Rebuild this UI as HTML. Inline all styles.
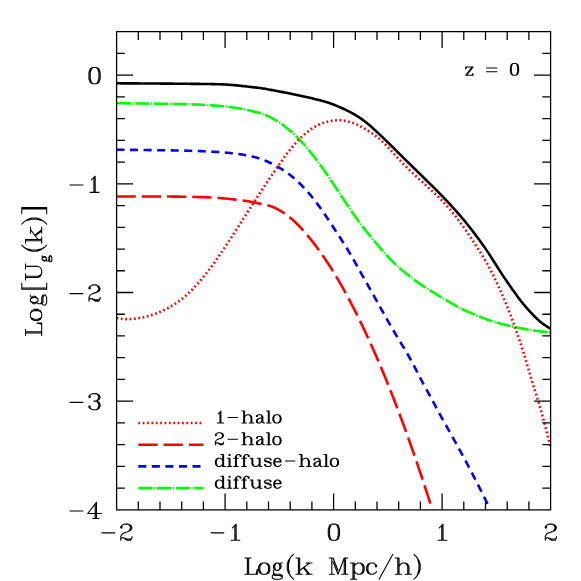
<!DOCTYPE html>
<html><head><meta charset="utf-8"><title>plot</title>
<style>html,body{margin:0;padding:0;background:#fff;font-family:"Liberation Sans",sans-serif;}svg{display:block}</style>
</head><body>
<svg width="581" height="581" viewBox="0 0 581 581">
<rect width="581" height="581" fill="#fff"/>
<path d="M116.50 83.30 L117.70 83.31 L118.90 83.31 L120.10 83.32 L121.30 83.33 L122.50 83.33 L123.70 83.34 L124.90 83.34 L126.10 83.35 L127.30 83.36 L128.50 83.36 L129.70 83.37 L130.90 83.38 L132.10 83.39 L133.30 83.39 L134.50 83.40 L135.70 83.41 L136.90 83.41 L138.10 83.42 L139.30 83.43 L140.50 83.44 L141.70 83.45 L142.90 83.45 L144.10 83.46 L145.30 83.47 L146.50 83.48 L147.70 83.48 L148.90 83.49 L150.10 83.50 L151.30 83.51 L152.50 83.52 L153.70 83.53 L154.90 83.53 L156.10 83.54 L157.30 83.55 L158.50 83.56 L159.70 83.57 L160.90 83.58 L162.10 83.58 L163.30 83.59 L164.50 83.60 L165.70 83.61 L166.90 83.62 L168.10 83.63 L169.30 83.64 L170.50 83.65 L171.70 83.66 L172.90 83.67 L174.10 83.68 L175.30 83.69 L176.50 83.70 L177.70 83.71 L178.90 83.72 L180.10 83.73 L181.30 83.74 L182.50 83.75 L183.70 83.76 L184.90 83.77 L186.10 83.79 L187.30 83.80 L188.50 83.81 L189.70 83.82 L190.90 83.83 L192.10 83.85 L193.30 83.86 L194.50 83.87 L195.70 83.88 L196.90 83.90 L198.10 83.91 L199.30 83.92 L200.50 83.94 L201.70 83.95 L202.90 83.97 L204.10 83.98 L205.30 84.00 L206.50 84.02 L207.70 84.03 L208.90 84.05 L210.10 84.07 L211.30 84.09 L212.50 84.11 L213.70 84.14 L214.90 84.16 L216.10 84.19 L217.30 84.21 L218.49 84.24 L219.69 84.28 L220.89 84.32 L222.09 84.36 L223.29 84.41 L224.49 84.46 L225.69 84.53 L226.89 84.60 L228.09 84.68 L229.28 84.77 L230.48 84.86 L231.68 84.95 L232.87 85.05 L234.07 85.16 L235.26 85.26 L236.46 85.37 L237.65 85.49 L238.85 85.60 L240.04 85.72 L241.23 85.85 L242.43 85.99 L243.62 86.12 L244.81 86.27 L246.00 86.41 L247.19 86.55 L248.39 86.70 L249.58 86.83 L250.77 86.97 L251.96 87.10 L253.15 87.23 L254.35 87.36 L255.54 87.49 L256.73 87.63 L257.93 87.77 L259.12 87.92 L260.31 88.08 L261.50 88.25 L262.68 88.42 L263.87 88.61 L265.05 88.81 L266.24 89.01 L267.42 89.22 L268.60 89.44 L269.78 89.66 L270.96 89.88 L272.14 90.10 L273.32 90.33 L274.50 90.55 L275.68 90.77 L276.85 91.00 L278.03 91.22 L279.21 91.45 L280.39 91.67 L281.57 91.90 L282.75 92.13 L283.93 92.35 L285.10 92.58 L286.28 92.81 L287.46 93.05 L288.64 93.28 L289.81 93.52 L290.99 93.76 L292.16 94.00 L293.34 94.24 L294.52 94.48 L295.69 94.73 L296.86 94.98 L298.04 95.23 L299.21 95.48 L300.38 95.74 L301.56 95.99 L302.73 96.25 L303.90 96.51 L305.07 96.77 L306.24 97.03 L307.42 97.29 L308.59 97.55 L309.76 97.81 L310.93 98.08 L312.10 98.35 L313.27 98.62 L314.44 98.90 L315.60 99.18 L316.77 99.46 L317.93 99.75 L319.10 100.05 L320.26 100.35 L321.42 100.66 L322.58 100.98 L323.73 101.31 L324.89 101.65 L326.04 101.99 L327.19 102.35 L328.33 102.72 L329.47 103.10 L330.60 103.50 L331.73 103.91 L332.86 104.33 L333.98 104.77 L335.10 105.21 L336.21 105.67 L337.32 106.13 L338.42 106.60 L339.53 107.08 L340.63 107.56 L341.72 108.05 L342.82 108.55 L343.91 109.04 L345.00 109.55 L346.09 110.06 L347.17 110.58 L348.25 111.11 L349.33 111.65 L350.40 112.20 L351.46 112.77 L352.52 113.35 L353.57 113.94 L354.61 114.54 L355.64 115.16 L356.67 115.79 L357.69 116.43 L358.70 117.09 L359.70 117.75 L360.70 118.43 L361.69 119.12 L362.67 119.82 L363.64 120.53 L364.61 121.25 L365.56 121.98 L366.51 122.72 L367.45 123.48 L368.39 124.24 L369.31 125.02 L370.22 125.80 L371.13 126.60 L372.03 127.40 L372.92 128.21 L373.81 129.02 L374.69 129.84 L375.57 130.66 L376.45 131.48 L377.32 132.30 L378.19 133.12 L379.07 133.95 L379.94 134.77 L380.81 135.60 L381.68 136.42 L382.55 137.25 L383.42 138.08 L384.29 138.91 L385.15 139.74 L386.02 140.58 L386.88 141.41 L387.75 142.25 L388.61 143.08 L389.47 143.92 L390.32 144.76 L391.18 145.61 L392.04 146.45 L392.89 147.29 L393.74 148.14 L394.59 148.99 L395.44 149.83 L396.29 150.68 L397.14 151.53 L397.99 152.38 L398.84 153.23 L399.68 154.08 L400.53 154.93 L401.38 155.78 L402.23 156.62 L403.08 157.47 L403.93 158.31 L404.79 159.16 L405.64 160.00 L406.49 160.84 L407.35 161.68 L408.21 162.52 L409.07 163.36 L409.92 164.19 L410.79 165.03 L411.65 165.86 L412.51 166.70 L413.37 167.53 L414.23 168.36 L415.10 169.20 L415.96 170.04 L416.82 170.87 L417.68 171.71 L418.53 172.55 L419.39 173.40 L420.25 174.24 L421.10 175.08 L421.95 175.92 L422.81 176.77 L423.66 177.61 L424.52 178.45 L425.37 179.29 L426.23 180.13 L427.09 180.97 L427.95 181.81 L428.81 182.65 L429.66 183.48 L430.52 184.32 L431.38 185.17 L432.23 186.01 L433.09 186.85 L433.94 187.70 L434.79 188.55 L435.64 189.40 L436.49 190.25 L437.33 191.10 L438.18 191.96 L439.02 192.81 L439.86 193.67 L440.70 194.53 L441.54 195.39 L442.37 196.26 L443.20 197.12 L444.04 197.99 L444.86 198.86 L445.69 199.73 L446.52 200.60 L447.34 201.48 L448.16 202.35 L448.98 203.23 L449.80 204.11 L450.62 204.99 L451.43 205.88 L452.24 206.76 L453.05 207.65 L453.86 208.54 L454.66 209.44 L455.47 210.33 L456.26 211.23 L457.06 212.13 L457.85 213.03 L458.65 213.94 L459.43 214.84 L460.22 215.75 L461.00 216.67 L461.78 217.58 L462.56 218.50 L463.33 219.42 L464.10 220.35 L464.87 221.27 L465.63 222.20 L466.39 223.13 L467.15 224.07 L467.90 225.00 L468.65 225.94 L469.40 226.89 L470.14 227.83 L470.89 228.78 L471.62 229.73 L472.36 230.68 L473.09 231.63 L473.82 232.59 L474.55 233.55 L475.27 234.51 L475.99 235.47 L476.71 236.43 L477.42 237.40 L478.14 238.37 L478.85 239.33 L479.56 240.30 L480.27 241.28 L480.97 242.25 L481.68 243.22 L482.38 244.20 L483.08 245.18 L483.77 246.16 L484.46 247.14 L485.15 248.13 L485.83 249.12 L486.51 250.12 L487.18 251.12 L487.85 252.12 L488.52 253.13 L489.17 254.13 L489.83 255.14 L490.48 256.16 L491.13 257.17 L491.77 258.18 L492.42 259.20 L493.06 260.21 L493.70 261.23 L494.34 262.24 L494.98 263.25 L495.62 264.27 L496.26 265.28 L496.91 266.29 L497.55 267.31 L498.20 268.32 L498.84 269.33 L499.49 270.34 L500.14 271.34 L500.79 272.35 L501.44 273.35 L502.10 274.35 L502.76 275.35 L503.42 276.35 L504.08 277.35 L504.75 278.34 L505.42 279.33 L506.10 280.32 L506.77 281.31 L507.45 282.29 L508.14 283.28 L508.82 284.26 L509.51 285.24 L510.20 286.22 L510.89 287.20 L511.58 288.18 L512.28 289.16 L512.97 290.14 L513.67 291.11 L514.36 292.09 L515.06 293.07 L515.76 294.04 L516.46 295.01 L517.16 295.98 L517.87 296.94 L518.58 297.91 L519.30 298.86 L520.02 299.82 L520.75 300.76 L521.48 301.70 L522.23 302.64 L522.98 303.56 L523.74 304.49 L524.50 305.40 L525.28 306.31 L526.06 307.22 L526.84 308.12 L527.64 309.01 L528.43 309.90 L529.24 310.79 L530.05 311.67 L530.86 312.54 L531.68 313.41 L532.51 314.28 L533.34 315.14 L534.18 315.99 L535.02 316.84 L535.87 317.68 L536.73 318.51 L537.60 319.33 L538.48 320.13 L539.37 320.92 L540.27 321.69 L541.20 322.44 L542.13 323.18 L543.08 323.89 L544.05 324.58 L545.04 325.26 L546.03 325.91 L547.05 326.54 L548.07 327.15 L549.10 327.76 L550.14 328.35 L550.60 328.55" fill="none" stroke="#000" stroke-width="2.60"/>
<path d="M116.50 103.20 L117.70 103.21 L118.90 103.22 L120.10 103.24 L121.30 103.25 L122.50 103.26 L123.70 103.28 L124.90 103.29 L126.10 103.30 L127.30 103.32 L128.50 103.33 L129.70 103.34 L130.90 103.36 L132.10 103.37 L133.30 103.39 L134.50 103.40 L135.70 103.42 L136.90 103.43 L138.10 103.44 L139.30 103.46 L140.50 103.48 L141.70 103.49 L142.90 103.51 L144.10 103.52 L145.30 103.54 L146.50 103.55 L147.70 103.57 L148.90 103.59 L150.10 103.60 L151.30 103.62 L152.50 103.63 L153.70 103.65 L154.90 103.66 L156.10 103.68 L157.30 103.70 L158.50 103.71 L159.70 103.73 L160.90 103.74 L162.10 103.76 L163.30 103.77 L164.50 103.79 L165.70 103.81 L166.90 103.82 L168.10 103.84 L169.30 103.86 L170.50 103.87 L171.70 103.89 L172.90 103.91 L174.10 103.93 L175.30 103.95 L176.50 103.97 L177.69 103.99 L178.89 104.02 L180.09 104.04 L181.29 104.06 L182.49 104.09 L183.69 104.11 L184.89 104.14 L186.09 104.17 L187.29 104.20 L188.49 104.23 L189.69 104.27 L190.89 104.30 L192.09 104.34 L193.29 104.38 L194.49 104.43 L195.69 104.47 L196.89 104.52 L198.09 104.57 L199.29 104.63 L200.48 104.68 L201.68 104.74 L202.88 104.80 L204.08 104.87 L205.28 104.93 L206.48 105.00 L207.67 105.07 L208.87 105.15 L210.07 105.22 L211.27 105.30 L212.46 105.38 L213.66 105.46 L214.86 105.54 L216.06 105.63 L217.25 105.72 L218.45 105.81 L219.65 105.91 L220.84 106.01 L222.04 106.11 L223.23 106.23 L224.43 106.35 L225.62 106.48 L226.81 106.62 L228.00 106.77 L229.19 106.92 L230.38 107.08 L231.57 107.25 L232.76 107.42 L233.95 107.60 L235.13 107.79 L236.32 107.98 L237.50 108.17 L238.69 108.37 L239.87 108.58 L241.05 108.80 L242.23 109.03 L243.41 109.26 L244.58 109.51 L245.76 109.76 L246.93 110.01 L248.10 110.27 L249.27 110.54 L250.44 110.80 L251.61 111.07 L252.78 111.34 L253.95 111.61 L255.12 111.89 L256.29 112.18 L257.45 112.47 L258.61 112.78 L259.77 113.11 L260.92 113.45 L262.07 113.82 L263.21 114.21 L264.34 114.62 L265.46 115.06 L266.57 115.52 L267.68 116.01 L268.77 116.52 L269.86 117.04 L270.93 117.58 L272.00 118.14 L273.06 118.71 L274.11 119.30 L275.15 119.90 L276.19 120.52 L277.22 121.15 L278.24 121.79 L279.24 122.45 L280.24 123.13 L281.23 123.82 L282.21 124.52 L283.18 125.23 L284.15 125.95 L285.10 126.69 L286.05 127.43 L287.00 128.18 L287.93 128.94 L288.86 129.70 L289.78 130.48 L290.70 131.26 L291.60 132.06 L292.50 132.86 L293.40 133.67 L294.28 134.48 L295.16 135.31 L296.03 136.14 L296.90 136.98 L297.75 137.83 L298.60 138.68 L299.45 139.54 L300.28 140.41 L301.11 141.28 L301.94 142.16 L302.75 143.05 L303.56 143.94 L304.36 144.84 L305.16 145.75 L305.94 146.66 L306.73 147.58 L307.50 148.50 L308.27 149.43 L309.03 150.36 L309.79 151.29 L310.55 152.23 L311.30 153.17 L312.05 154.11 L312.79 155.06 L313.53 156.00 L314.27 156.96 L315.00 157.91 L315.73 158.87 L316.45 159.83 L317.18 160.79 L317.90 161.75 L318.61 162.72 L319.32 163.69 L320.03 164.66 L320.74 165.63 L321.44 166.61 L322.14 167.59 L322.83 168.57 L323.53 169.55 L324.22 170.53 L324.91 171.52 L325.60 172.50 L326.28 173.49 L326.97 174.48 L327.65 175.47 L328.33 176.46 L329.01 177.45 L329.68 178.45 L330.35 179.44 L331.02 180.44 L331.69 181.44 L332.36 182.44 L333.02 183.44 L333.68 184.44 L334.35 185.44 L335.01 186.45 L335.67 187.45 L336.33 188.45 L336.99 189.45 L337.65 190.45 L338.32 191.45 L338.98 192.45 L339.64 193.45 L340.31 194.45 L340.97 195.45 L341.63 196.45 L342.30 197.45 L342.96 198.44 L343.63 199.44 L344.29 200.44 L344.96 201.44 L345.62 202.44 L346.29 203.44 L346.95 204.44 L347.62 205.44 L348.28 206.43 L348.95 207.43 L349.62 208.43 L350.29 209.42 L350.96 210.42 L351.63 211.41 L352.30 212.40 L352.98 213.39 L353.65 214.38 L354.34 215.36 L355.02 216.34 L355.71 217.32 L356.40 218.30 L357.09 219.28 L357.79 220.25 L358.49 221.22 L359.20 222.18 L359.91 223.15 L360.62 224.10 L361.34 225.06 L362.07 226.01 L362.80 226.96 L363.53 227.90 L364.27 228.84 L365.01 229.78 L365.76 230.72 L366.51 231.65 L367.26 232.58 L368.02 233.51 L368.78 234.44 L369.54 235.36 L370.30 236.29 L371.07 237.21 L371.83 238.13 L372.60 239.06 L373.37 239.98 L374.14 240.90 L374.91 241.82 L375.68 242.74 L376.45 243.66 L377.22 244.58 L377.99 245.49 L378.77 246.41 L379.54 247.32 L380.32 248.23 L381.11 249.13 L381.89 250.04 L382.68 250.93 L383.48 251.83 L384.27 252.72 L385.08 253.61 L385.88 254.49 L386.69 255.38 L387.51 256.25 L388.33 257.12 L389.15 257.99 L389.98 258.86 L390.81 259.72 L391.65 260.57 L392.49 261.42 L393.33 262.27 L394.19 263.11 L395.04 263.94 L395.91 264.77 L396.78 265.59 L397.65 266.40 L398.54 267.21 L399.43 268.00 L400.33 268.79 L401.24 269.57 L402.15 270.34 L403.07 271.10 L404.00 271.86 L404.93 272.61 L405.87 273.35 L406.81 274.09 L407.76 274.83 L408.70 275.56 L409.65 276.30 L410.60 277.03 L411.55 277.76 L412.50 278.49 L413.46 279.22 L414.41 279.94 L415.37 280.67 L416.33 281.38 L417.29 282.09 L418.26 282.79 L419.23 283.49 L420.21 284.17 L421.20 284.85 L422.19 285.51 L423.19 286.17 L424.20 286.82 L425.21 287.46 L426.23 288.10 L427.24 288.73 L428.27 289.36 L429.29 289.98 L430.32 290.60 L431.34 291.22 L432.37 291.84 L433.40 292.46 L434.43 293.08 L435.46 293.70 L436.48 294.32 L437.51 294.94 L438.54 295.56 L439.57 296.17 L440.59 296.79 L441.62 297.41 L442.65 298.02 L443.68 298.64 L444.71 299.25 L445.75 299.86 L446.78 300.47 L447.81 301.08 L448.85 301.69 L449.88 302.30 L450.92 302.90 L451.95 303.51 L452.99 304.11 L454.02 304.72 L455.06 305.31 L456.11 305.91 L457.15 306.49 L458.20 307.07 L459.26 307.63 L460.32 308.18 L461.38 308.72 L462.46 309.25 L463.54 309.77 L464.62 310.27 L465.71 310.77 L466.81 311.25 L467.91 311.73 L469.01 312.20 L470.11 312.67 L471.22 313.14 L472.33 313.60 L473.43 314.06 L474.54 314.52 L475.65 314.98 L476.76 315.45 L477.86 315.91 L478.97 316.36 L480.08 316.82 L481.19 317.27 L482.31 317.71 L483.42 318.15 L484.54 318.58 L485.66 319.00 L486.79 319.40 L487.92 319.80 L489.05 320.19 L490.19 320.57 L491.33 320.93 L492.47 321.29 L493.62 321.65 L494.77 321.99 L495.92 322.33 L497.07 322.66 L498.23 322.99 L499.38 323.30 L500.54 323.62 L501.70 323.92 L502.86 324.22 L504.02 324.52 L505.19 324.81 L506.35 325.09 L507.52 325.37 L508.69 325.65 L509.85 325.92 L511.02 326.18 L512.19 326.44 L513.37 326.70 L514.54 326.96 L515.71 327.21 L516.88 327.46 L518.06 327.71 L519.23 327.95 L520.41 328.19 L521.59 328.42 L522.76 328.65 L523.94 328.87 L525.12 329.09 L526.30 329.30 L527.48 329.51 L528.67 329.71 L529.85 329.91 L531.03 330.10 L532.22 330.29 L533.40 330.47 L534.59 330.65 L535.78 330.83 L536.96 330.99 L538.15 331.16 L539.34 331.32 L540.53 331.47 L541.72 331.62 L542.91 331.76 L544.10 331.90 L545.30 332.03 L546.49 332.16 L547.68 332.29 L548.88 332.41 L550.07 332.53 L550.70 332.60" fill="none" stroke="#00ff00" stroke-width="2.60" stroke-dasharray="14.2 1.7 1.2 1.6"/>
<path d="M116.50 149.70 L117.70 149.71 L118.90 149.72 L120.10 149.74 L121.30 149.75 L122.50 149.76 L123.70 149.78 L124.90 149.79 L126.10 149.80 L127.30 149.82 L128.50 149.83 L129.70 149.84 L130.90 149.86 L132.10 149.87 L133.30 149.89 L134.50 149.90 L135.70 149.92 L136.90 149.93 L138.10 149.94 L139.30 149.96 L140.50 149.98 L141.70 149.99 L142.90 150.01 L144.10 150.02 L145.30 150.04 L146.50 150.05 L147.70 150.07 L148.90 150.09 L150.10 150.10 L151.30 150.12 L152.50 150.13 L153.70 150.15 L154.90 150.17 L156.10 150.18 L157.30 150.20 L158.50 150.21 L159.70 150.23 L160.90 150.24 L162.10 150.26 L163.30 150.28 L164.50 150.29 L165.70 150.31 L166.90 150.33 L168.10 150.34 L169.30 150.36 L170.50 150.38 L171.70 150.40 L172.90 150.42 L174.10 150.44 L175.30 150.46 L176.49 150.48 L177.69 150.50 L178.89 150.52 L180.09 150.54 L181.29 150.57 L182.49 150.59 L183.69 150.62 L184.89 150.64 L186.09 150.67 L187.29 150.70 L188.49 150.73 L189.69 150.76 L190.89 150.79 L192.09 150.83 L193.29 150.86 L194.49 150.90 L195.69 150.94 L196.89 150.98 L198.09 151.03 L199.29 151.07 L200.49 151.12 L201.69 151.17 L202.88 151.22 L204.08 151.27 L205.28 151.33 L206.48 151.38 L207.68 151.44 L208.88 151.50 L210.08 151.56 L211.27 151.63 L212.47 151.69 L213.67 151.76 L214.87 151.83 L216.07 151.90 L217.27 151.97 L218.46 152.05 L219.66 152.12 L220.86 152.21 L222.05 152.29 L223.25 152.38 L224.45 152.48 L225.64 152.59 L226.84 152.70 L228.03 152.81 L229.23 152.94 L230.42 153.07 L231.61 153.20 L232.81 153.34 L234.00 153.48 L235.19 153.62 L236.38 153.77 L237.57 153.93 L238.76 154.08 L239.95 154.24 L241.14 154.41 L242.33 154.58 L243.51 154.77 L244.70 154.96 L245.88 155.16 L247.06 155.37 L248.24 155.59 L249.42 155.83 L250.60 156.09 L251.77 156.36 L252.94 156.64 L254.10 156.94 L255.26 157.26 L256.41 157.60 L257.56 157.95 L258.71 158.31 L259.85 158.68 L260.99 159.07 L262.12 159.48 L263.25 159.89 L264.37 160.33 L265.49 160.78 L266.60 161.24 L267.70 161.72 L268.80 162.22 L269.89 162.73 L270.97 163.25 L272.05 163.79 L273.12 164.33 L274.19 164.89 L275.25 165.46 L276.31 166.03 L277.36 166.62 L278.40 167.22 L279.44 167.83 L280.47 168.45 L281.50 169.08 L282.52 169.72 L283.53 170.38 L284.53 171.04 L285.53 171.72 L286.51 172.41 L287.50 173.11 L288.47 173.82 L289.43 174.55 L290.39 175.28 L291.33 176.03 L292.27 176.79 L293.19 177.56 L294.11 178.34 L295.02 179.13 L295.92 179.93 L296.82 180.74 L297.70 181.56 L298.58 182.38 L299.46 183.21 L300.32 184.05 L301.18 184.90 L302.03 185.75 L302.87 186.62 L303.71 187.49 L304.53 188.36 L305.35 189.25 L306.17 190.14 L306.97 191.03 L307.77 191.94 L308.56 192.85 L309.34 193.76 L310.12 194.69 L310.89 195.61 L311.65 196.55 L312.41 197.49 L313.16 198.43 L313.90 199.38 L314.64 200.33 L315.37 201.29 L316.10 202.24 L316.82 203.21 L317.54 204.17 L318.25 205.14 L318.96 206.11 L319.67 207.08 L320.38 208.06 L321.07 209.04 L321.77 210.02 L322.46 211.00 L323.15 211.99 L323.84 212.98 L324.52 213.97 L325.19 214.97 L325.87 215.96 L326.54 216.96 L327.21 217.96 L327.87 218.96 L328.53 219.97 L329.20 220.97 L329.85 221.97 L330.51 222.98 L331.17 223.98 L331.83 224.99 L332.48 225.99 L333.14 227.00 L333.79 228.00 L334.45 229.01 L335.11 230.01 L335.76 231.01 L336.42 232.02 L337.08 233.02 L337.74 234.03 L338.39 235.03 L339.05 236.04 L339.71 237.04 L340.36 238.05 L341.01 239.06 L341.67 240.07 L342.32 241.08 L342.96 242.09 L343.61 243.11 L344.25 244.12 L344.89 245.14 L345.53 246.16 L346.16 247.19 L346.79 248.21 L347.41 249.24 L348.04 250.27 L348.65 251.30 L349.27 252.34 L349.88 253.38 L350.49 254.41 L351.09 255.45 L351.69 256.50 L352.29 257.54 L352.88 258.58 L353.48 259.63 L354.07 260.68 L354.66 261.72 L355.25 262.77 L355.83 263.82 L356.42 264.86 L357.01 265.91 L357.59 266.96 L358.18 268.01 L358.77 269.05 L359.35 270.10 L359.94 271.14 L360.53 272.19 L361.12 273.23 L361.71 274.28 L362.30 275.32 L362.89 276.37 L363.48 277.41 L364.07 278.46 L364.66 279.50 L365.25 280.54 L365.84 281.59 L366.43 282.63 L367.02 283.68 L367.62 284.72 L368.21 285.77 L368.80 286.81 L369.39 287.86 L369.98 288.90 L370.57 289.95 L371.16 290.99 L371.75 292.04 L372.34 293.08 L372.93 294.13 L373.51 295.18 L374.10 296.22 L374.69 297.27 L375.27 298.32 L375.86 299.37 L376.44 300.42 L377.03 301.47 L377.61 302.52 L378.19 303.57 L378.77 304.61 L379.36 305.66 L379.94 306.71 L380.52 307.76 L381.10 308.81 L381.69 309.86 L382.27 310.91 L382.85 311.96 L383.43 313.01 L384.02 314.05 L384.60 315.10 L385.19 316.15 L385.78 317.19 L386.36 318.24 L386.95 319.28 L387.54 320.32 L388.13 321.37 L388.73 322.41 L389.32 323.45 L389.92 324.49 L390.52 325.53 L391.11 326.56 L391.72 327.60 L392.32 328.64 L392.92 329.67 L393.53 330.70 L394.14 331.73 L394.75 332.76 L395.37 333.79 L395.98 334.82 L396.60 335.85 L397.22 336.87 L397.84 337.90 L398.47 338.92 L399.09 339.95 L399.71 340.97 L400.34 342.00 L400.96 343.02 L401.58 344.05 L402.20 345.08 L402.83 346.10 L403.45 347.13 L404.06 348.16 L404.68 349.20 L405.30 350.23 L405.91 351.26 L406.52 352.30 L407.12 353.34 L407.72 354.38 L408.32 355.43 L408.92 356.48 L409.51 357.53 L410.09 358.58 L410.67 359.63 L411.25 360.69 L411.83 361.75 L412.39 362.81 L412.96 363.87 L413.52 364.94 L414.08 366.01 L414.63 367.07 L415.18 368.14 L415.73 369.21 L416.28 370.28 L416.83 371.35 L417.38 372.41 L417.92 373.48 L418.47 374.55 L419.02 375.61 L419.57 376.68 L420.12 377.74 L420.68 378.80 L421.23 379.86 L421.80 380.92 L422.36 381.97 L422.93 383.03 L423.49 384.08 L424.07 385.13 L424.64 386.18 L425.22 387.23 L425.80 388.28 L426.38 389.33 L426.97 390.38 L427.55 391.42 L428.13 392.48 L428.71 393.53 L429.29 394.58 L429.87 395.64 L430.45 396.69 L431.02 397.75 L431.59 398.81 L432.15 399.87 L432.72 400.93 L433.28 402.00 L433.84 403.06 L434.40 404.12 L434.96 405.18 L435.52 406.24 L436.08 407.30 L436.64 408.36 L437.20 409.42 L437.77 410.47 L438.34 411.53 L438.91 412.58 L439.48 413.63 L440.05 414.68 L440.63 415.73 L441.21 416.78 L441.79 417.83 L442.37 418.88 L442.96 419.92 L443.54 420.97 L444.13 422.02 L444.71 423.06 L445.30 424.11 L445.89 425.16 L446.47 426.20 L447.06 427.25 L447.65 428.30 L448.23 429.35 L448.82 430.39 L449.40 431.44 L449.99 432.49 L450.58 433.54 L451.16 434.58 L451.74 435.63 L452.33 436.68 L452.91 437.73 L453.50 438.78 L454.08 439.83 L454.67 440.88 L455.25 441.92 L455.83 442.97 L456.41 444.02 L457.00 445.07 L457.58 446.13 L458.16 447.18 L458.74 448.23 L459.31 449.28 L459.89 450.33 L460.47 451.39 L461.04 452.44 L461.62 453.50 L462.19 454.55 L462.76 455.61 L463.33 456.67 L463.90 457.72 L464.47 458.78 L465.04 459.84 L465.60 460.90 L466.17 461.96 L466.73 463.02 L467.30 464.08 L467.86 465.14 L468.42 466.21 L468.98 467.27 L469.54 468.33 L470.10 469.39 L470.65 470.46 L471.21 471.52 L471.76 472.59 L472.32 473.66 L472.87 474.72 L473.42 475.79 L473.97 476.86 L474.52 477.92 L475.07 478.99 L475.62 480.06 L476.16 481.13 L476.71 482.20 L477.25 483.27 L477.80 484.34 L478.34 485.42 L478.88 486.49 L479.42 487.56 L479.96 488.63 L480.50 489.71 L481.03 490.78 L481.57 491.86 L482.11 492.93 L482.64 494.01 L483.17 495.08 L483.71 496.16 L484.24 497.24 L484.77 498.32 L485.30 499.39 L485.83 500.47 L486.35 501.55 L486.88 502.63 L487.41 503.71 L487.93 504.79 L488.46 505.87 L488.99 506.95 L489.50 508.00" fill="none" stroke="#0000ff" stroke-width="2.60" stroke-dasharray="8 5.55"/>
<path d="M116.50 196.50 L117.70 196.50 L118.90 196.50 L120.10 196.50 L121.30 196.50 L122.50 196.50 L123.70 196.50 L124.90 196.50 L126.10 196.50 L127.30 196.50 L128.50 196.50 L129.70 196.50 L130.90 196.50 L132.10 196.50 L133.30 196.50 L134.50 196.50 L135.70 196.50 L136.90 196.50 L138.10 196.50 L139.30 196.50 L140.50 196.50 L141.70 196.50 L142.90 196.50 L144.10 196.50 L145.30 196.50 L146.50 196.50 L147.70 196.50 L148.90 196.50 L150.10 196.50 L151.30 196.50 L152.50 196.50 L153.70 196.50 L154.90 196.50 L156.10 196.50 L157.30 196.50 L158.50 196.50 L159.70 196.50 L160.90 196.50 L162.10 196.50 L163.30 196.51 L164.50 196.51 L165.70 196.52 L166.90 196.52 L168.10 196.53 L169.30 196.54 L170.50 196.55 L171.70 196.56 L172.90 196.58 L174.10 196.59 L175.30 196.61 L176.50 196.62 L177.70 196.64 L178.90 196.66 L180.10 196.68 L181.30 196.70 L182.50 196.72 L183.70 196.74 L184.90 196.76 L186.10 196.78 L187.30 196.80 L188.50 196.82 L189.70 196.84 L190.90 196.87 L192.10 196.89 L193.30 196.92 L194.50 196.95 L195.70 196.98 L196.90 197.01 L198.10 197.04 L199.29 197.08 L200.49 197.11 L201.69 197.15 L202.89 197.19 L204.09 197.23 L205.29 197.27 L206.49 197.32 L207.69 197.37 L208.89 197.41 L210.09 197.46 L211.29 197.52 L212.49 197.58 L213.68 197.64 L214.88 197.70 L216.08 197.78 L217.28 197.86 L218.48 197.94 L219.67 198.04 L220.87 198.13 L222.06 198.23 L223.26 198.34 L224.45 198.45 L225.65 198.56 L226.84 198.68 L228.04 198.80 L229.23 198.92 L230.43 199.05 L231.62 199.19 L232.81 199.33 L234.00 199.47 L235.19 199.61 L236.38 199.76 L237.58 199.91 L238.77 200.06 L239.96 200.21 L241.15 200.36 L242.34 200.51 L243.53 200.66 L244.72 200.82 L245.91 200.98 L247.10 201.15 L248.28 201.33 L249.47 201.52 L250.65 201.72 L251.83 201.94 L253.01 202.17 L254.19 202.42 L255.36 202.68 L256.53 202.95 L257.70 203.22 L258.87 203.49 L260.04 203.75 L261.21 204.00 L262.39 204.23 L263.57 204.47 L264.74 204.70 L265.92 204.94 L267.09 205.20 L268.26 205.48 L269.43 205.79 L270.58 206.14 L271.72 206.53 L272.85 206.97 L273.96 207.43 L275.06 207.94 L276.15 208.47 L277.22 209.03 L278.28 209.60 L279.32 210.20 L280.36 210.81 L281.39 211.44 L282.41 212.08 L283.43 212.73 L284.43 213.40 L285.42 214.09 L286.40 214.80 L287.37 215.52 L288.33 216.25 L289.27 217.00 L290.21 217.76 L291.13 218.53 L292.05 219.32 L292.96 220.11 L293.86 220.91 L294.75 221.73 L295.63 222.55 L296.50 223.39 L297.36 224.23 L298.22 225.09 L299.06 225.95 L299.89 226.82 L300.72 227.70 L301.53 228.59 L302.34 229.48 L303.14 230.38 L303.94 231.28 L304.73 232.19 L305.52 233.10 L306.30 234.02 L307.07 234.94 L307.85 235.86 L308.61 236.79 L309.38 237.72 L310.14 238.65 L310.89 239.59 L311.64 240.53 L312.38 241.48 L313.13 242.43 L313.86 243.38 L314.60 244.33 L315.32 245.29 L316.05 246.25 L316.77 247.22 L317.48 248.18 L318.20 249.15 L318.90 250.13 L319.61 251.10 L320.31 252.08 L321.00 253.07 L321.69 254.05 L322.38 255.04 L323.06 256.03 L323.74 257.02 L324.42 258.02 L325.09 259.01 L325.76 260.01 L326.43 261.01 L327.09 262.02 L327.75 263.02 L328.41 264.03 L329.07 265.04 L329.72 266.05 L330.36 267.06 L331.01 268.08 L331.65 269.10 L332.29 270.12 L332.93 271.14 L333.56 272.16 L334.19 273.18 L334.81 274.21 L335.44 275.24 L336.06 276.27 L336.68 277.30 L337.29 278.34 L337.90 279.37 L338.51 280.41 L339.12 281.45 L339.72 282.49 L340.32 283.53 L340.92 284.58 L341.51 285.62 L342.11 286.67 L342.70 287.71 L343.28 288.76 L343.87 289.81 L344.45 290.87 L345.03 291.92 L345.61 292.97 L346.18 294.03 L346.76 295.09 L347.33 296.15 L347.90 297.20 L348.46 298.26 L349.03 299.32 L349.59 300.39 L350.15 301.45 L350.71 302.51 L351.27 303.58 L351.83 304.64 L352.38 305.71 L352.94 306.78 L353.49 307.84 L354.03 308.91 L354.58 309.98 L355.13 311.06 L355.67 312.13 L356.21 313.20 L356.75 314.28 L357.29 315.35 L357.82 316.43 L358.36 317.50 L358.89 318.58 L359.42 319.66 L359.95 320.74 L360.47 321.82 L361.00 322.91 L361.52 323.99 L362.04 325.07 L362.56 326.16 L363.07 327.24 L363.59 328.33 L364.10 329.41 L364.61 330.50 L365.12 331.59 L365.63 332.68 L366.14 333.77 L366.64 334.86 L367.15 335.95 L367.65 337.04 L368.15 338.13 L368.65 339.23 L369.15 340.32 L369.65 341.42 L370.14 342.51 L370.64 343.61 L371.13 344.70 L371.62 345.80 L372.11 346.90 L372.60 347.99 L373.09 349.09 L373.57 350.19 L374.06 351.29 L374.54 352.39 L375.02 353.49 L375.50 354.59 L375.98 355.69 L376.46 356.79 L376.94 357.90 L377.42 359.00 L377.89 360.10 L378.37 361.21 L378.84 362.31 L379.31 363.42 L379.78 364.52 L380.25 365.63 L380.72 366.73 L381.19 367.84 L381.65 368.95 L382.12 370.06 L382.58 371.16 L383.05 372.27 L383.51 373.38 L383.97 374.49 L384.42 375.60 L384.88 376.71 L385.34 377.83 L385.79 378.94 L386.25 380.05 L386.70 381.16 L387.15 382.28 L387.60 383.39 L388.05 384.51 L388.50 385.62 L388.95 386.74 L389.39 387.85 L389.84 388.97 L390.28 390.09 L390.72 391.20 L391.16 392.32 L391.60 393.44 L392.04 394.56 L392.48 395.68 L392.91 396.80 L393.35 397.92 L393.78 399.04 L394.22 400.16 L394.65 401.28 L395.08 402.40 L395.51 403.52 L395.94 404.64 L396.37 405.76 L396.80 406.89 L397.22 408.01 L397.65 409.13 L398.07 410.26 L398.50 411.38 L398.92 412.50 L399.35 413.63 L399.77 414.75 L400.19 415.88 L400.61 417.00 L401.03 418.13 L401.45 419.25 L401.86 420.38 L402.28 421.51 L402.70 422.63 L403.11 423.76 L403.53 424.89 L403.94 426.02 L404.35 427.14 L404.76 428.27 L405.18 429.40 L405.59 430.53 L406.00 431.66 L406.40 432.79 L406.81 433.92 L407.22 435.05 L407.62 436.18 L408.03 437.31 L408.43 438.44 L408.84 439.57 L409.24 440.71 L409.64 441.84 L410.04 442.97 L410.44 444.10 L410.84 445.23 L411.24 446.37 L411.64 447.50 L412.04 448.63 L412.43 449.77 L412.83 450.90 L413.23 452.04 L413.62 453.17 L414.01 454.31 L414.41 455.44 L414.80 456.58 L415.19 457.71 L415.58 458.85 L415.97 459.98 L416.36 461.12 L416.75 462.26 L417.13 463.39 L417.52 464.53 L417.91 465.67 L418.29 466.81 L418.68 467.94 L419.06 469.08 L419.44 470.22 L419.83 471.36 L420.21 472.50 L420.59 473.64 L420.97 474.78 L421.35 475.92 L421.72 477.06 L422.10 478.20 L422.48 479.34 L422.86 480.48 L423.23 481.62 L423.61 482.76 L423.98 483.90 L424.35 485.04 L424.73 486.19 L425.10 487.33 L425.47 488.47 L425.84 489.61 L426.21 490.75 L426.58 491.89 L426.95 493.04 L427.32 494.18 L427.69 495.32 L428.07 496.46 L428.44 497.60 L428.81 498.74 L429.18 499.88 L429.55 501.02 L429.92 502.16 L430.30 503.30 L430.67 504.44 L431.05 505.58 L431.42 506.72 L431.79 507.86 L432.17 509.00 L432.40 509.70" fill="none" stroke="#ff0000" stroke-width="2.60" stroke-dasharray="19.3 5.95"/>
<path d="M116.50 318.10 L117.70 318.30 L118.88 318.49 L120.07 318.66 L121.26 318.80 L122.45 318.92 L123.64 319.01 L124.84 319.07 L126.04 319.11 L127.24 319.14 L128.44 319.13 L129.64 319.11 L130.84 319.06 L132.04 318.98 L133.23 318.88 L134.43 318.76 L135.62 318.62 L136.81 318.46 L138.00 318.28 L139.19 318.09 L140.37 317.88 L141.55 317.66 L142.73 317.42 L143.90 317.16 L145.07 316.89 L146.24 316.61 L147.41 316.32 L148.57 316.00 L149.72 315.67 L150.87 315.33 L152.02 314.96 L153.16 314.57 L154.29 314.17 L155.42 313.75 L156.54 313.32 L157.66 312.87 L158.77 312.41 L159.88 311.94 L160.98 311.46 L162.08 310.97 L163.17 310.46 L164.26 309.95 L165.34 309.42 L166.41 308.87 L167.48 308.32 L168.54 307.75 L169.59 307.17 L170.64 306.57 L171.68 305.96 L172.71 305.34 L173.74 304.71 L174.75 304.06 L175.76 303.40 L176.76 302.73 L177.75 302.04 L178.73 301.34 L179.70 300.62 L180.67 299.90 L181.62 299.16 L182.56 298.41 L183.50 297.65 L184.43 296.88 L185.34 296.10 L186.25 295.30 L187.15 294.50 L188.04 293.68 L188.92 292.86 L189.79 292.02 L190.65 291.17 L191.50 290.32 L192.34 289.45 L193.17 288.58 L194.00 287.70 L194.81 286.81 L195.62 285.92 L196.43 285.03 L197.23 284.13 L198.02 283.22 L198.81 282.32 L199.60 281.41 L200.38 280.49 L201.16 279.58 L201.94 278.65 L202.71 277.73 L203.47 276.80 L204.23 275.87 L204.99 274.93 L205.74 273.99 L206.49 273.05 L207.23 272.10 L207.97 271.15 L208.71 270.20 L209.44 269.25 L210.17 268.29 L210.89 267.33 L211.61 266.36 L212.33 265.40 L213.04 264.43 L213.75 263.46 L214.45 262.48 L215.16 261.50 L215.85 260.52 L216.55 259.54 L217.24 258.55 L217.92 257.57 L218.61 256.58 L219.29 255.58 L219.96 254.59 L220.64 253.60 L221.31 252.60 L221.98 251.60 L222.65 250.61 L223.32 249.61 L223.99 248.61 L224.65 247.61 L225.32 246.61 L225.98 245.61 L226.64 244.61 L227.31 243.61 L227.97 242.60 L228.62 241.60 L229.28 240.59 L229.94 239.59 L230.60 238.58 L231.25 237.58 L231.90 236.57 L232.56 235.56 L233.21 234.55 L233.86 233.54 L234.51 232.53 L235.16 231.53 L235.81 230.52 L236.46 229.51 L237.11 228.50 L237.76 227.49 L238.41 226.48 L239.05 225.47 L239.70 224.46 L240.35 223.45 L241.00 222.43 L241.64 221.42 L242.29 220.41 L242.94 219.40 L243.58 218.39 L244.23 217.38 L244.87 216.37 L245.52 215.35 L246.16 214.34 L246.81 213.33 L247.45 212.32 L248.10 211.31 L248.75 210.30 L249.39 209.28 L250.04 208.27 L250.68 207.26 L251.33 206.25 L251.98 205.24 L252.62 204.23 L253.27 203.22 L253.92 202.21 L254.57 201.20 L255.22 200.20 L255.87 199.19 L256.52 198.18 L257.17 197.17 L257.82 196.17 L258.48 195.16 L259.13 194.16 L259.79 193.16 L260.45 192.16 L261.11 191.15 L261.77 190.15 L262.43 189.16 L263.09 188.16 L263.76 187.16 L264.42 186.16 L265.09 185.17 L265.76 184.17 L266.43 183.17 L267.10 182.18 L267.77 181.19 L268.44 180.19 L269.12 179.20 L269.79 178.21 L270.47 177.22 L271.14 176.23 L271.82 175.24 L272.50 174.25 L273.18 173.26 L273.85 172.27 L274.53 171.28 L275.21 170.30 L275.89 169.31 L276.58 168.32 L277.26 167.33 L277.94 166.34 L278.62 165.36 L279.30 164.37 L279.98 163.38 L280.67 162.40 L281.35 161.42 L282.04 160.43 L282.73 159.46 L283.42 158.48 L284.12 157.51 L284.82 156.54 L285.53 155.58 L286.24 154.62 L286.96 153.66 L287.69 152.71 L288.42 151.77 L289.15 150.83 L289.90 149.89 L290.65 148.96 L291.40 148.03 L292.16 147.11 L292.93 146.19 L293.70 145.28 L294.48 144.38 L295.27 143.48 L296.06 142.59 L296.87 141.71 L297.68 140.83 L298.50 139.97 L299.33 139.12 L300.18 138.28 L301.03 137.44 L301.90 136.62 L302.77 135.81 L303.66 135.02 L304.56 134.23 L305.46 133.45 L306.38 132.69 L307.31 131.93 L308.24 131.20 L309.19 130.48 L310.16 129.78 L311.14 129.10 L312.13 128.44 L313.14 127.81 L314.16 127.20 L315.20 126.61 L316.25 126.05 L317.31 125.50 L318.38 124.97 L319.47 124.47 L320.56 123.99 L321.66 123.53 L322.78 123.10 L323.90 122.71 L325.04 122.35 L326.19 122.02 L327.35 121.73 L328.52 121.47 L329.69 121.23 L330.87 121.01 L332.05 120.82 L333.24 120.65 L334.43 120.50 L335.62 120.39 L336.82 120.30 L338.01 120.26 L339.21 120.25 L340.41 120.29 L341.61 120.38 L342.81 120.50 L344.00 120.67 L345.18 120.88 L346.36 121.12 L347.54 121.38 L348.70 121.67 L349.87 121.97 L351.02 122.30 L352.18 122.65 L353.32 123.03 L354.46 123.44 L355.58 123.88 L356.69 124.35 L357.78 124.86 L358.87 125.40 L359.93 125.96 L360.99 126.54 L362.04 127.14 L363.08 127.74 L364.11 128.36 L365.14 128.98 L366.17 129.60 L367.19 130.24 L368.21 130.87 L369.22 131.52 L370.23 132.18 L371.23 132.85 L372.23 133.52 L373.22 134.21 L374.20 134.91 L375.17 135.63 L376.13 136.35 L377.08 137.10 L378.03 137.85 L378.96 138.62 L379.88 139.40 L380.78 140.20 L381.68 141.01 L382.56 141.83 L383.44 142.66 L384.30 143.51 L385.16 144.36 L386.00 145.21 L386.84 146.07 L387.68 146.94 L388.51 147.81 L389.34 148.68 L390.16 149.56 L390.98 150.43 L391.80 151.32 L392.62 152.20 L393.43 153.09 L394.23 153.98 L395.04 154.88 L395.84 155.77 L396.64 156.67 L397.44 157.56 L398.24 158.45 L399.04 159.34 L399.84 160.23 L400.65 161.11 L401.47 161.99 L402.29 162.86 L403.11 163.72 L403.94 164.58 L404.78 165.43 L405.63 166.28 L406.47 167.12 L407.33 167.96 L408.19 168.80 L409.05 169.63 L409.92 170.45 L410.79 171.28 L411.66 172.10 L412.53 172.93 L413.40 173.75 L414.28 174.57 L415.15 175.39 L416.03 176.21 L416.91 177.02 L417.79 177.84 L418.67 178.66 L419.55 179.47 L420.43 180.28 L421.31 181.10 L422.19 181.91 L423.08 182.72 L423.96 183.53 L424.84 184.34 L425.73 185.16 L426.61 185.97 L427.49 186.78 L428.37 187.60 L429.26 188.41 L430.14 189.22 L431.02 190.04 L431.90 190.85 L432.78 191.67 L433.66 192.48 L434.54 193.30 L435.42 194.12 L436.29 194.95 L437.17 195.78 L438.03 196.62 L438.89 197.46 L439.75 198.31 L440.60 199.16 L441.44 200.02 L442.27 200.89 L443.10 201.76 L443.93 202.64 L444.74 203.53 L445.55 204.42 L446.36 205.31 L447.16 206.22 L447.95 207.12 L448.74 208.03 L449.52 208.94 L450.30 209.86 L451.08 210.78 L451.85 211.71 L452.61 212.64 L453.37 213.57 L454.12 214.51 L454.87 215.46 L455.62 216.40 L456.36 217.35 L457.09 218.31 L457.82 219.26 L458.54 220.23 L459.26 221.19 L459.98 222.16 L460.69 223.13 L461.40 224.10 L462.10 225.08 L462.81 226.05 L463.50 227.03 L464.20 228.01 L464.89 229.00 L465.58 229.98 L466.27 230.97 L466.95 231.96 L467.63 232.95 L468.31 233.94 L468.99 234.93 L469.67 235.93 L470.34 236.92 L471.01 237.92 L471.67 238.92 L472.34 239.92 L473.00 240.93 L473.66 241.93 L474.32 242.94 L474.97 243.94 L475.63 244.95 L476.28 245.96 L476.93 246.97 L477.58 247.98 L478.23 249.00 L478.87 250.01 L479.52 251.02 L480.16 252.04 L480.80 253.06 L481.44 254.07 L482.07 255.09 L482.71 256.12 L483.34 257.14 L483.96 258.17 L484.58 259.21 L485.20 260.25 L485.80 261.29 L486.40 262.34 L487.00 263.39 L487.58 264.44 L488.16 265.50 L488.73 266.57 L489.30 267.63 L489.86 268.70 L490.41 269.77 L490.96 270.85 L491.50 271.92 L492.04 273.00 L492.58 274.07 L493.11 275.15 L493.65 276.23 L494.18 277.31 L494.70 278.39 L495.23 279.47 L495.75 280.55 L496.28 281.64 L496.79 282.72 L497.31 283.81 L497.82 284.90 L498.33 285.99 L498.84 287.08 L499.34 288.18 L499.84 289.27 L500.33 290.37 L500.82 291.47 L501.31 292.57 L501.79 293.68 L502.27 294.78 L502.75 295.89 L503.22 297.00 L503.69 298.11 L504.16 299.22 L504.62 300.33 L505.08 301.44 L505.53 302.56 L505.99 303.67 L506.44 304.79 L506.89 305.90 L507.33 307.02 L507.78 308.14 L508.22 309.26 L508.66 310.38 L509.09 311.50 L509.53 312.62 L509.96 313.74 L510.39 314.87 L510.82 315.99 L511.24 317.12 L511.66 318.24 L512.09 319.37 L512.51 320.50 L512.92 321.63 L513.34 322.75 L513.75 323.88 L514.16 325.01 L514.57 326.14 L514.98 327.28 L515.39 328.41 L515.79 329.54 L516.20 330.67 L516.60 331.81 L517.00 332.94 L517.39 334.08 L517.79 335.22 L518.18 336.35 L518.57 337.49 L518.96 338.63 L519.34 339.77 L519.73 340.91 L520.11 342.05 L520.49 343.19 L520.87 344.34 L521.24 345.48 L521.61 346.62 L521.98 347.77 L522.35 348.92 L522.72 350.06 L523.08 351.21 L523.44 352.36 L523.80 353.51 L524.15 354.66 L524.51 355.81 L524.86 356.97 L525.20 358.12 L525.55 359.27 L525.89 360.43 L526.23 361.58 L526.57 362.74 L526.91 363.89 L527.24 365.05 L527.57 366.20 L527.91 367.36 L528.24 368.51 L528.57 369.66 L528.90 370.81 L529.24 371.97 L529.57 373.12 L529.90 374.27 L530.24 375.42 L530.58 376.56 L530.92 377.71 L531.26 378.86 L531.60 380.00 L531.95 381.15 L532.30 382.29 L532.65 383.43 L533.01 384.57 L533.36 385.72 L533.72 386.86 L534.08 388.00 L534.45 389.14 L534.81 390.28 L535.18 391.42 L535.54 392.57 L535.91 393.71 L536.27 394.86 L536.63 396.00 L536.99 397.15 L537.35 398.30 L537.71 399.45 L538.06 400.60 L538.41 401.75 L538.76 402.91 L539.11 404.06 L539.45 405.22 L539.79 406.37 L540.13 407.53 L540.47 408.69 L540.80 409.85 L541.13 411.00 L541.45 412.16 L541.78 413.32 L542.10 414.48 L542.42 415.65 L542.74 416.81 L543.05 417.97 L543.36 419.13 L543.67 420.30 L543.98 421.46 L544.29 422.62 L544.59 423.79 L544.90 424.95 L545.20 426.12 L545.50 427.28 L545.80 428.45 L546.10 429.61 L546.39 430.78 L546.69 431.94 L546.98 433.11 L547.27 434.28 L547.56 435.44 L547.85 436.61 L548.14 437.77 L548.43 438.94 L548.72 440.11 L549.01 441.27 L549.29 442.44 L549.58 443.61 L549.86 444.77 L550.15 445.94 L550.43 447.11 L550.70 448.20" fill="none" stroke="#ff0000" stroke-width="2.60" stroke-dasharray="1.8 2.57"/>
<path d="M138.30 422.94 L203.40 422.94" fill="none" stroke="#ff0000" stroke-width="2.60" stroke-dasharray="1.8 2.57"/>
<path d="M138.30 444.68 L203.40 444.68" fill="none" stroke="#ff0000" stroke-width="2.60" stroke-dasharray="19.3 5.95"/>
<path d="M138.30 466.42 L203.40 466.42" fill="none" stroke="#0000ff" stroke-width="2.60" stroke-dasharray="8 5.55"/>
<path d="M138.30 488.16 L203.40 488.16" fill="none" stroke="#00ff00" stroke-width="2.60" stroke-dasharray="14.2 1.7 1.2 1.6"/>
<rect x="116.60" y="31.62" width="434.00" height="478.28" stroke="#000" stroke-width="1.28" fill="none" stroke-linecap="square"/>
<path d="M138.30 509.90 V501.60 M138.30 31.62 V39.92 M160.00 509.90 V501.60 M160.00 31.62 V39.92 M181.70 509.90 V501.60 M181.70 31.62 V39.92 M203.40 509.90 V501.60 M203.40 31.62 V39.92 M225.10 509.90 V493.40 M225.10 31.62 V48.12 M246.80 509.90 V501.60 M246.80 31.62 V39.92 M268.50 509.90 V501.60 M268.50 31.62 V39.92 M290.20 509.90 V501.60 M290.20 31.62 V39.92 M311.90 509.90 V501.60 M311.90 31.62 V39.92 M333.60 509.90 V493.40 M333.60 31.62 V48.12 M355.30 509.90 V501.60 M355.30 31.62 V39.92 M377.00 509.90 V501.60 M377.00 31.62 V39.92 M398.70 509.90 V501.60 M398.70 31.62 V39.92 M420.40 509.90 V501.60 M420.40 31.62 V39.92 M442.10 509.90 V493.40 M442.10 31.62 V48.12 M463.80 509.90 V501.60 M463.80 31.62 V39.92 M485.50 509.90 V501.60 M485.50 31.62 V39.92 M507.20 509.90 V501.60 M507.20 31.62 V39.92 M528.90 509.90 V501.60 M528.90 31.62 V39.92 M116.60 488.16 H124.90 M550.60 488.16 H542.30 M116.60 466.42 H124.90 M550.60 466.42 H542.30 M116.60 444.68 H124.90 M550.60 444.68 H542.30 M116.60 422.94 H124.90 M550.60 422.94 H542.30 M116.60 401.20 H133.10 M550.60 401.20 H534.10 M116.60 379.46 H124.90 M550.60 379.46 H542.30 M116.60 357.72 H124.90 M550.60 357.72 H542.30 M116.60 335.98 H124.90 M550.60 335.98 H542.30 M116.60 314.24 H124.90 M550.60 314.24 H542.30 M116.60 292.50 H133.10 M550.60 292.50 H534.10 M116.60 270.76 H124.90 M550.60 270.76 H542.30 M116.60 249.02 H124.90 M550.60 249.02 H542.30 M116.60 227.28 H124.90 M550.60 227.28 H542.30 M116.60 205.54 H124.90 M550.60 205.54 H542.30 M116.60 183.80 H133.10 M550.60 183.80 H534.10 M116.60 162.06 H124.90 M550.60 162.06 H542.30 M116.60 140.32 H124.90 M550.60 140.32 H542.30 M116.60 118.58 H124.90 M550.60 118.58 H542.30 M116.60 96.84 H124.90 M550.60 96.84 H542.30 M116.60 75.10 H133.10 M550.60 75.10 H534.10 M116.60 53.36 H124.90 M550.60 53.36 H542.30" stroke="#000" stroke-width="1.28" fill="none"/>
<path d="M101.82 532.83 L114.82 532.83 M122.02 526.60 L122.02 527.85 L120.77 527.85 L120.77 526.60 L122.02 525.36 L124.51 524.12 L128.24 524.12 L130.73 525.36 L131.98 527.85 L130.73 530.34 L128.24 531.58 L124.51 532.83 L122.02 534.07 L120.77 536.56 L120.77 540.30 M128.24 524.12 L129.49 525.36 L130.73 527.85 L129.49 530.34 L128.24 531.58 M120.77 539.05 L122.02 537.81 L123.26 537.81 L127.00 539.05 L130.73 539.05 L131.98 537.81 M123.26 537.81 L127.00 540.30 L130.73 540.30 L131.98 537.81 L131.98 536.56" fill="none" stroke="#000" stroke-width="1.10" stroke-linecap="round" stroke-linejoin="round"/>
<path d="M210.95 532.83 L223.94 532.83 M232.38 527.85 L236.12 524.12 L236.12 540.30 M234.87 525.36 L234.87 540.30 M231.14 540.30 L239.85 540.30" fill="none" stroke="#000" stroke-width="1.10" stroke-linecap="round" stroke-linejoin="round"/>
<path d="M332.03 524.12 L329.54 525.36 L328.30 529.09 L328.30 535.32 L329.54 539.05 L332.03 540.30 L335.77 540.30 L338.26 539.05 L339.50 535.32 L339.50 529.09 L338.26 525.36 L335.77 524.12 L332.03 524.12 M332.03 524.12 L330.79 525.36 L329.54 529.09 L329.54 535.32 L330.79 539.05 L332.03 540.30 M335.77 540.30 L337.01 539.05 L338.26 535.32 L338.26 529.09 L337.01 525.36 L335.77 524.12" fill="none" stroke="#000" stroke-width="1.10" stroke-linecap="round" stroke-linejoin="round"/>
<path d="M439.29 527.85 L443.02 524.12 L443.02 540.30 M441.78 525.36 L441.78 540.30 M438.04 540.30 L446.76 540.30" fill="none" stroke="#000" stroke-width="1.10" stroke-linecap="round" stroke-linejoin="round"/>
<path d="M546.54 526.60 L546.54 527.85 L545.30 527.85 L545.30 526.60 L546.54 525.36 L549.03 524.12 L552.77 524.12 L555.26 525.36 L556.50 527.85 L555.26 530.34 L552.77 531.58 L549.03 532.83 L546.54 534.07 L545.30 536.56 L545.30 540.30 M552.77 524.12 L554.01 525.36 L555.26 527.85 L554.01 530.34 L552.77 531.58 M545.30 539.05 L546.54 537.81 L547.79 537.81 L551.52 539.05 L555.26 539.05 L556.50 537.81 M547.79 537.81 L551.52 540.30 L555.26 540.30 L556.50 537.81 L556.50 536.56" fill="none" stroke="#000" stroke-width="1.10" stroke-linecap="round" stroke-linejoin="round"/>
<path d="M92.69 67.51 L90.20 68.76 L88.95 72.49 L88.95 78.72 L90.20 82.45 L92.69 83.70 L96.42 83.70 L98.91 82.45 L100.16 78.72 L100.16 72.49 L98.91 68.76 L96.42 67.51 L92.69 67.51 M92.69 67.51 L91.44 68.76 L90.20 72.49 L90.20 78.72 L91.44 82.45 L92.69 83.70 M96.42 83.70 L97.67 82.45 L98.91 78.72 L98.91 72.49 L97.67 68.76 L96.42 67.51" fill="none" stroke="#000" stroke-width="1.10" stroke-linecap="round" stroke-linejoin="round"/>
<path d="M70.00 184.93 L83.00 184.93 M91.44 179.95 L95.18 176.22 L95.18 192.40 M93.93 177.46 L93.93 192.40 M90.20 192.40 L98.91 192.40" fill="none" stroke="#000" stroke-width="1.10" stroke-linecap="round" stroke-linejoin="round"/>
<path d="M70.00 293.63 L83.00 293.63 M90.20 287.41 L90.20 288.65 L88.95 288.65 L88.95 287.41 L90.20 286.16 L92.69 284.92 L96.42 284.92 L98.91 286.16 L100.16 288.65 L98.91 291.14 L96.42 292.39 L92.69 293.63 L90.20 294.88 L88.95 297.37 L88.95 301.10 M96.42 284.92 L97.67 286.16 L98.91 288.65 L97.67 291.14 L96.42 292.39 M88.95 299.86 L90.20 298.61 L91.44 298.61 L95.18 299.86 L98.91 299.86 L100.16 298.61 M91.44 298.61 L95.18 301.10 L98.91 301.10 L100.16 298.61 L100.16 297.37" fill="none" stroke="#000" stroke-width="1.10" stroke-linecap="round" stroke-linejoin="round"/>
<path d="M70.00 402.33 L83.00 402.33 M90.20 396.11 L90.20 397.35 L88.95 397.35 L88.95 396.11 L90.20 394.86 L92.69 393.62 L96.42 393.62 L98.91 394.86 L100.16 397.35 L98.91 399.84 L96.42 401.09 M96.42 393.62 L97.67 394.86 L98.91 397.35 L97.67 399.84 L96.42 401.09 M93.93 401.09 L96.42 401.09 L98.91 402.33 L100.16 404.82 L100.16 406.07 L98.91 408.56 L96.42 409.80 L92.69 409.80 L90.20 408.56 L88.95 407.31 L88.95 406.07 L90.20 406.07 L90.20 407.31 M96.42 401.09 L97.67 402.33 L98.91 404.82 L98.91 406.07 L97.67 408.56 L96.42 409.80" fill="none" stroke="#000" stroke-width="1.10" stroke-linecap="round" stroke-linejoin="round"/>
<path d="M70.00 511.03 L83.00 511.03 M95.18 504.81 L95.18 518.50 M96.42 502.31 L96.42 518.50 M96.42 502.31 L87.71 513.52 L101.40 513.52 M92.69 518.50 L98.91 518.50" fill="none" stroke="#000" stroke-width="1.10" stroke-linecap="round" stroke-linejoin="round"/>
<path d="M247.39 558.02 L247.39 574.20 M248.64 558.02 L248.64 574.20 M244.90 558.02 L251.12 558.02 M244.90 574.20 L257.35 574.20 L257.35 569.22 L256.11 574.20 M262.33 563.00 L259.84 564.24 L258.60 566.73 L258.60 570.47 L259.84 572.96 L262.33 574.20 L266.06 574.20 L268.56 572.96 L269.80 570.47 L269.80 566.73 L268.56 564.24 L266.06 563.00 L262.33 563.00 M262.33 563.00 L261.09 564.24 L259.84 566.73 L259.84 570.47 L261.09 572.96 L262.33 574.20 M266.06 574.20 L267.31 572.96 L268.56 570.47 L268.56 566.73 L267.31 564.24 L266.06 563.00 M276.03 563.00 L273.54 565.49 L273.54 567.98 L276.03 570.47 L278.51 570.47 L281.00 567.98 L281.00 565.49 L278.51 563.00 L276.03 563.00 M276.03 563.00 L274.78 565.49 L274.78 567.98 L276.03 570.47 M278.51 570.47 L279.76 567.98 L279.76 565.49 L278.51 563.00 M279.76 564.24 L281.00 563.00 L282.25 563.00 M274.78 569.22 L273.54 570.47 L273.54 574.20 L274.78 575.45 L279.76 575.45 L282.25 576.69 M273.54 572.96 L274.78 574.20 L279.76 574.20 L282.25 575.45 L282.25 577.94 L279.76 579.18 L274.78 579.18 L272.29 577.94 L272.29 575.45 L274.78 574.20 M293.46 554.28 L290.97 556.77 L288.48 560.50 L287.23 564.24 L287.23 569.22 L288.48 572.96 L290.97 576.69 L293.46 579.18 M290.97 556.77 L289.72 559.26 L288.48 564.24 L288.48 569.22 L289.72 574.20 L290.97 576.69 M298.44 558.02 L298.44 574.20 M299.68 558.02 L299.68 574.20 M309.64 563.00 L299.68 570.47 M303.42 567.98 L308.39 574.20 M304.66 567.98 L309.64 574.20 M295.94 558.02 L299.68 558.02 M305.91 563.00 L312.13 563.00 M295.94 574.20 L302.17 574.20 M305.91 574.20 L312.13 574.20 M331.80 558.02 L331.80 574.20 M333.05 561.75 L338.03 574.20 M333.05 558.02 L338.03 570.47 M344.25 558.02 L338.03 574.20 M344.25 558.02 L344.25 574.20 M345.50 558.02 L345.50 574.20 M329.31 558.02 L333.05 558.02 M344.25 558.02 L347.99 558.02 M329.31 574.20 L334.29 574.20 M341.76 574.20 L347.99 574.20 M352.97 563.00 L352.97 579.18 M354.21 563.00 L354.21 579.18 M354.21 566.73 L355.46 564.24 L357.95 563.00 L360.44 563.00 L362.93 564.24 L364.17 566.73 L364.17 570.47 L362.93 572.96 L360.44 574.20 L357.95 574.20 L355.46 572.96 L354.21 570.47 M360.44 563.00 L361.68 564.24 L362.93 566.73 L362.93 570.47 L361.68 572.96 L360.44 574.20 M350.48 563.00 L354.21 563.00 M350.48 579.18 L356.70 579.18 M376.62 565.49 L375.38 565.49 L375.38 566.73 L376.62 566.73 L376.62 565.49 L375.38 564.24 L372.89 563.00 L370.40 563.00 L367.91 564.24 L366.66 566.73 L366.66 570.47 L367.91 572.96 L370.40 574.20 L372.89 574.20 L375.38 572.96 L376.62 571.71 M370.40 563.00 L369.15 564.24 L367.91 566.73 L367.91 570.47 L369.15 572.96 L370.40 574.20 M392.81 554.28 L379.11 579.18 M397.79 558.02 L397.79 574.20 M399.03 558.02 L399.03 574.20 M399.03 566.73 L400.28 564.24 L402.77 563.00 L405.26 563.00 L407.75 564.24 L408.99 566.73 L408.99 574.20 M405.26 563.00 L406.50 564.24 L407.75 566.73 L407.75 574.20 M395.30 558.02 L399.03 558.02 M395.30 574.20 L401.52 574.20 M405.26 574.20 L411.48 574.20 M413.97 554.28 L416.46 556.77 L418.95 560.50 L420.20 564.24 L420.20 569.22 L418.95 572.96 L416.46 576.69 L413.97 579.18 M416.46 556.77 L417.71 559.26 L418.95 564.24 L418.95 569.22 L417.71 574.20 L416.46 576.69" fill="none" stroke="#000" stroke-width="1.10" stroke-linecap="round" stroke-linejoin="round"/>
<path d="M25.52 333.04 L41.70 333.04 M25.52 331.79 L41.70 331.79 M25.52 335.53 L25.52 329.30 M41.70 335.53 L41.70 323.07 L36.72 323.07 L41.70 324.32 M30.50 316.85 L31.74 319.34 L34.23 320.58 L37.97 320.58 L40.46 319.34 L41.70 316.85 L41.70 313.11 L40.46 310.62 L37.97 309.38 L34.23 309.38 L31.74 310.62 L30.50 313.11 L30.50 316.85 M30.50 316.85 L31.74 318.09 L34.23 319.34 L37.97 319.34 L40.46 318.09 L41.70 316.85 M41.70 313.11 L40.46 311.87 L37.97 310.62 L34.23 310.62 L31.74 311.87 L30.50 313.11 M30.50 301.25 L32.98 303.74 L35.48 303.74 L37.97 301.25 L37.97 298.75 L35.48 296.26 L32.98 296.26 L30.50 298.75 L30.50 301.25 M30.50 301.25 L32.98 302.49 L35.48 302.49 L37.97 301.25 M37.97 298.75 L35.48 297.51 L32.98 297.51 L30.50 298.75 M31.74 297.51 L30.50 296.26 L30.50 295.02 M36.72 302.49 L37.97 303.74 L41.70 303.74 L42.95 302.49 L42.95 297.51 L44.19 295.02 M40.46 303.74 L41.70 302.49 L41.70 297.51 L42.95 295.02 L45.44 295.02 L46.68 297.51 L46.68 302.49 L45.44 304.98 L42.95 304.98 L41.70 302.49 M21.78 289.19 L46.68 289.19 M21.78 287.94 L46.68 287.94 M21.78 289.19 L21.78 282.96 M46.68 289.19 L46.68 282.96 M25.52 277.58 L37.97 277.58 L40.46 276.34 L41.70 273.85 L41.70 270.11 L40.46 267.62 L37.97 266.38 L25.52 266.38 M25.52 276.34 L37.97 276.34 L40.46 275.09 L41.70 273.85 M25.52 280.07 L25.52 273.85 M25.52 268.87 L25.52 263.89 M42.18 259.50 L43.67 260.99 L45.17 260.99 L46.66 259.50 L46.66 258.00 L45.17 256.51 L43.67 256.51 L42.18 258.00 L42.18 259.50 M42.18 259.50 L43.67 260.24 L45.17 260.24 L46.66 259.50 M46.66 258.00 L45.17 257.26 L43.67 257.26 L42.18 258.00 M42.92 257.26 L42.18 256.51 L42.18 255.76 M45.91 260.24 L46.66 260.99 L48.90 260.99 L49.65 260.24 L49.65 257.26 L50.39 255.76 M48.15 260.99 L48.90 260.24 L48.90 257.26 L49.65 255.76 L51.14 255.76 L51.89 257.26 L51.89 260.24 L51.14 261.74 L49.65 261.74 L48.90 260.24 M21.78 245.06 L24.27 247.56 L28.01 250.05 L31.74 251.29 L36.72 251.29 L40.46 250.05 L44.19 247.56 L46.68 245.06 M24.27 247.56 L26.76 248.80 L31.74 250.05 L36.72 250.05 L41.70 248.80 L44.19 247.56 M25.52 240.78 L41.70 240.78 M25.52 239.54 L41.70 239.54 M30.50 229.58 L37.97 239.54 M35.48 235.80 L41.70 230.82 M35.48 234.56 L41.70 229.58 M25.52 243.27 L25.52 239.54 M30.50 233.31 L30.50 227.09 M41.70 243.27 L41.70 237.05 M41.70 233.31 L41.70 227.09 M21.78 224.14 L24.27 221.65 L28.01 219.16 L31.74 217.91 L36.72 217.91 L40.46 219.16 L44.19 221.65 L46.68 224.14 M24.27 221.65 L26.76 220.40 L31.74 219.16 L36.72 219.16 L41.70 220.40 L44.19 221.65 M21.78 208.85 L46.68 208.85 M21.78 207.61 L46.68 207.61 M21.78 213.84 L21.78 207.61 M46.68 213.84 L46.68 207.61" fill="none" stroke="#000" stroke-width="1.05" stroke-linecap="round" stroke-linejoin="round"/>
<path d="M472.08 67.09 L465.70 75.30 M473.00 67.09 L466.61 75.30 M466.61 67.09 L465.70 68.92 L465.70 67.09 L473.00 67.09 M465.70 75.30 L473.00 75.30 L473.00 73.48 L472.08 75.30 M486.49 68.00 L496.89 68.00 M486.49 71.65 L496.89 71.65 M513.12 63.44 L511.30 64.36 L510.39 67.09 L510.39 71.65 L511.30 74.39 L513.12 75.30 L515.86 75.30 L517.68 74.39 L518.60 71.65 L518.60 67.09 L517.68 64.36 L515.86 63.44 L513.12 63.44 M513.12 63.44 L512.21 64.36 L511.30 67.09 L511.30 71.65 L512.21 74.39 L513.12 75.30 M515.86 75.30 L516.77 74.39 L517.68 71.65 L517.68 67.09 L516.77 64.36 L515.86 63.44" fill="none" stroke="#000" stroke-width="1.05" stroke-linecap="round" stroke-linejoin="round"/>
<path d="M218.15 413.82 L220.88 411.08 L220.88 422.94 M219.97 412.00 L219.97 422.94 M217.24 422.94 L223.62 422.94 M227.98 417.47 L237.50 417.47 M243.68 411.08 L243.68 422.94 M244.60 411.08 L244.60 422.94 M244.60 417.47 L245.51 415.64 L247.33 414.73 L249.16 414.73 L250.98 415.64 L251.89 417.47 L251.89 422.94 M249.16 414.73 L250.07 415.64 L250.98 417.47 L250.98 422.94 M241.86 411.08 L244.60 411.08 M241.86 422.94 L246.42 422.94 M249.16 422.94 L253.72 422.94 M258.28 414.73 L257.36 415.64 L257.36 416.56 L256.45 416.56 L256.45 415.64 L258.28 414.73 L261.01 414.73 L262.84 416.56 L262.84 422.03 L263.75 422.94 L264.66 422.94 M261.01 414.73 L261.92 416.56 L261.92 422.03 L263.75 422.94 M261.92 417.47 L259.19 418.38 L257.36 419.29 L256.45 420.20 L256.45 422.03 L257.36 422.94 L260.10 422.94 L261.01 422.03 L261.92 420.20 M259.19 418.38 L257.36 420.20 L257.36 422.03 L258.28 422.94 M268.31 411.08 L268.31 422.94 M269.22 411.08 L269.22 422.94 M266.48 411.08 L269.22 411.08 M266.48 422.94 L271.04 422.94 M275.60 414.73 L273.78 415.64 L272.87 417.47 L272.87 420.20 L273.78 422.03 L275.60 422.94 L278.34 422.94 L280.16 422.03 L281.08 420.20 L281.08 417.47 L280.16 415.64 L278.34 414.73 L275.60 414.73 M275.60 414.73 L274.69 415.64 L273.78 417.47 L273.78 420.20 L274.69 422.03 L275.60 422.94 M278.34 422.94 L279.25 422.03 L280.16 420.20 L280.16 417.47 L279.25 415.64 L278.34 414.73" fill="none" stroke="#000" stroke-width="1.05" stroke-linecap="round" stroke-linejoin="round"/>
<path d="M216.32 434.65 L216.32 435.56 L215.41 435.56 L215.41 434.65 L216.32 433.74 L218.15 432.82 L220.88 432.82 L222.71 433.74 L223.62 435.56 L222.71 437.38 L220.88 438.30 L218.15 439.21 L216.32 440.12 L215.41 441.94 L215.41 444.68 M220.88 432.82 L221.80 433.74 L222.71 435.56 L221.80 437.38 L220.88 438.30 M215.41 443.77 L216.32 442.86 L217.24 442.86 L219.97 443.77 L222.71 443.77 L223.62 442.86 M217.24 442.86 L219.97 444.68 L222.71 444.68 L223.62 442.86 L223.62 441.94 M227.98 439.21 L237.50 439.21 M243.68 432.82 L243.68 444.68 M244.60 432.82 L244.60 444.68 M244.60 439.21 L245.51 437.38 L247.33 436.47 L249.16 436.47 L250.98 437.38 L251.89 439.21 L251.89 444.68 M249.16 436.47 L250.07 437.38 L250.98 439.21 L250.98 444.68 M241.86 432.82 L244.60 432.82 M241.86 444.68 L246.42 444.68 M249.16 444.68 L253.72 444.68 M258.28 436.47 L257.36 437.38 L257.36 438.30 L256.45 438.30 L256.45 437.38 L258.28 436.47 L261.01 436.47 L262.84 438.30 L262.84 443.77 L263.75 444.68 L264.66 444.68 M261.01 436.47 L261.92 438.30 L261.92 443.77 L263.75 444.68 M261.92 439.21 L259.19 440.12 L257.36 441.03 L256.45 441.94 L256.45 443.77 L257.36 444.68 L260.10 444.68 L261.01 443.77 L261.92 441.94 M259.19 440.12 L257.36 441.94 L257.36 443.77 L258.28 444.68 M268.31 432.82 L268.31 444.68 M269.22 432.82 L269.22 444.68 M266.48 432.82 L269.22 432.82 M266.48 444.68 L271.04 444.68 M275.60 436.47 L273.78 437.38 L272.87 439.21 L272.87 441.94 L273.78 443.77 L275.60 444.68 L278.34 444.68 L280.16 443.77 L281.08 441.94 L281.08 439.21 L280.16 437.38 L278.34 436.47 L275.60 436.47 M275.60 436.47 L274.69 437.38 L273.78 439.21 L273.78 441.94 L274.69 443.77 L275.60 444.68 M278.34 444.68 L279.25 443.77 L280.16 441.94 L280.16 439.21 L279.25 437.38 L278.34 436.47" fill="none" stroke="#000" stroke-width="1.05" stroke-linecap="round" stroke-linejoin="round"/>
<path d="M222.71 454.56 L222.71 466.42 M223.62 454.56 L223.62 466.42 M222.71 460.95 L221.80 459.12 L219.97 458.21 L218.15 458.21 L216.32 459.12 L215.41 460.95 L215.41 463.68 L216.32 465.51 L218.15 466.42 L219.97 466.42 L221.80 465.51 L222.71 463.68 M218.15 458.21 L217.24 459.12 L216.32 460.95 L216.32 463.68 L217.24 465.51 L218.15 466.42 M220.88 454.56 L223.62 454.56 M222.71 466.42 L225.44 466.42 M229.09 454.56 L229.09 455.48 L230.00 455.48 L230.00 454.56 L229.09 454.56 M229.09 458.21 L229.09 466.42 M230.00 458.21 L230.00 466.42 M227.27 458.21 L230.00 458.21 M227.27 466.42 L231.83 466.42 M239.12 454.56 L240.04 455.48 L240.04 456.39 L240.95 456.39 L240.95 455.48 L239.12 454.56 L237.30 454.56 L235.48 456.39 L235.48 466.42 M237.30 454.56 L236.39 456.39 L236.39 466.42 M233.65 458.21 L238.21 458.21 M233.65 466.42 L238.21 466.42 M247.33 454.56 L248.24 455.48 L248.24 456.39 L249.16 456.39 L249.16 455.48 L247.33 454.56 L245.51 454.56 L243.68 456.39 L243.68 466.42 M245.51 454.56 L244.60 456.39 L244.60 466.42 M241.86 458.21 L246.42 458.21 M241.86 466.42 L246.42 466.42 M251.89 458.21 L251.89 463.68 L252.80 465.51 L254.63 466.42 L256.45 466.42 L258.28 465.51 L259.19 463.68 M252.80 458.21 L252.80 463.68 L253.72 465.51 L254.63 466.42 M259.19 458.21 L259.19 466.42 M260.10 458.21 L260.10 466.42 M250.07 458.21 L252.80 458.21 M257.36 458.21 L260.10 458.21 M259.19 466.42 L261.92 466.42 M269.22 458.21 L270.13 459.12 L270.13 460.04 L271.04 460.04 L271.04 459.12 L269.22 458.21 L266.48 458.21 L264.66 459.12 L264.66 460.95 L266.48 461.86 L269.22 462.77 L271.04 463.68 M264.66 460.04 L266.48 460.95 L269.22 461.86 L271.04 462.77 L271.04 465.51 L269.22 466.42 L266.48 466.42 L264.66 465.51 L264.66 464.60 L265.57 464.60 L265.57 465.51 L266.48 466.42 M274.69 461.86 L281.08 461.86 L281.08 460.95 L280.16 459.12 L278.34 458.21 L276.52 458.21 L274.69 459.12 L273.78 460.95 L273.78 463.68 L274.69 465.51 L276.52 466.42 L278.34 466.42 L280.16 465.51 L281.08 464.60 M280.16 461.86 L280.16 460.04 L278.34 458.21 M276.52 458.21 L275.60 459.12 L274.69 460.95 L274.69 463.68 L275.60 465.51 L276.52 466.42 M285.44 460.95 L294.96 460.95 M301.14 454.56 L301.14 466.42 M302.05 454.56 L302.05 466.42 M302.05 460.95 L302.96 459.12 L304.79 458.21 L306.61 458.21 L308.44 459.12 L309.35 460.95 L309.35 466.42 M306.61 458.21 L307.52 459.12 L308.44 460.95 L308.44 466.42 M299.32 454.56 L302.05 454.56 M299.32 466.42 L303.88 466.42 M306.61 466.42 L311.17 466.42 M315.73 458.21 L314.82 459.12 L314.82 460.04 L313.91 460.04 L313.91 459.12 L315.73 458.21 L318.47 458.21 L320.29 460.04 L320.29 465.51 L321.20 466.42 L322.12 466.42 M318.47 458.21 L319.38 460.04 L319.38 465.51 L321.20 466.42 M319.38 460.95 L316.64 461.86 L314.82 462.77 L313.91 463.68 L313.91 465.51 L314.82 466.42 L317.56 466.42 L318.47 465.51 L319.38 463.68 M316.64 461.86 L314.82 463.68 L314.82 465.51 L315.73 466.42 M325.76 454.56 L325.76 466.42 M326.68 454.56 L326.68 466.42 M323.94 454.56 L326.68 454.56 M323.94 466.42 L328.50 466.42 M333.06 458.21 L331.24 459.12 L330.32 460.95 L330.32 463.68 L331.24 465.51 L333.06 466.42 L335.80 466.42 L337.62 465.51 L338.53 463.68 L338.53 460.95 L337.62 459.12 L335.80 458.21 L333.06 458.21 M333.06 458.21 L332.15 459.12 L331.24 460.95 L331.24 463.68 L332.15 465.51 L333.06 466.42 M335.80 466.42 L336.71 465.51 L337.62 463.68 L337.62 460.95 L336.71 459.12 L335.80 458.21" fill="none" stroke="#000" stroke-width="1.05" stroke-linecap="round" stroke-linejoin="round"/>
<path d="M222.71 476.30 L222.71 488.16 M223.62 476.30 L223.62 488.16 M222.71 482.69 L221.80 480.86 L219.97 479.95 L218.15 479.95 L216.32 480.86 L215.41 482.69 L215.41 485.42 L216.32 487.25 L218.15 488.16 L219.97 488.16 L221.80 487.25 L222.71 485.42 M218.15 479.95 L217.24 480.86 L216.32 482.69 L216.32 485.42 L217.24 487.25 L218.15 488.16 M220.88 476.30 L223.62 476.30 M222.71 488.16 L225.44 488.16 M229.09 476.30 L229.09 477.22 L230.00 477.22 L230.00 476.30 L229.09 476.30 M229.09 479.95 L229.09 488.16 M230.00 479.95 L230.00 488.16 M227.27 479.95 L230.00 479.95 M227.27 488.16 L231.83 488.16 M239.12 476.30 L240.04 477.22 L240.04 478.13 L240.95 478.13 L240.95 477.22 L239.12 476.30 L237.30 476.30 L235.48 478.13 L235.48 488.16 M237.30 476.30 L236.39 478.13 L236.39 488.16 M233.65 479.95 L238.21 479.95 M233.65 488.16 L238.21 488.16 M247.33 476.30 L248.24 477.22 L248.24 478.13 L249.16 478.13 L249.16 477.22 L247.33 476.30 L245.51 476.30 L243.68 478.13 L243.68 488.16 M245.51 476.30 L244.60 478.13 L244.60 488.16 M241.86 479.95 L246.42 479.95 M241.86 488.16 L246.42 488.16 M251.89 479.95 L251.89 485.42 L252.80 487.25 L254.63 488.16 L256.45 488.16 L258.28 487.25 L259.19 485.42 M252.80 479.95 L252.80 485.42 L253.72 487.25 L254.63 488.16 M259.19 479.95 L259.19 488.16 M260.10 479.95 L260.10 488.16 M250.07 479.95 L252.80 479.95 M257.36 479.95 L260.10 479.95 M259.19 488.16 L261.92 488.16 M269.22 479.95 L270.13 480.86 L270.13 481.78 L271.04 481.78 L271.04 480.86 L269.22 479.95 L266.48 479.95 L264.66 480.86 L264.66 482.69 L266.48 483.60 L269.22 484.51 L271.04 485.42 M264.66 481.78 L266.48 482.69 L269.22 483.60 L271.04 484.51 L271.04 487.25 L269.22 488.16 L266.48 488.16 L264.66 487.25 L264.66 486.34 L265.57 486.34 L265.57 487.25 L266.48 488.16 M274.69 483.60 L281.08 483.60 L281.08 482.69 L280.16 480.86 L278.34 479.95 L276.52 479.95 L274.69 480.86 L273.78 482.69 L273.78 485.42 L274.69 487.25 L276.52 488.16 L278.34 488.16 L280.16 487.25 L281.08 486.34 M280.16 483.60 L280.16 481.78 L278.34 479.95 M276.52 479.95 L275.60 480.86 L274.69 482.69 L274.69 485.42 L275.60 487.25 L276.52 488.16" fill="none" stroke="#000" stroke-width="1.05" stroke-linecap="round" stroke-linejoin="round"/>
</svg>
</body></html>
